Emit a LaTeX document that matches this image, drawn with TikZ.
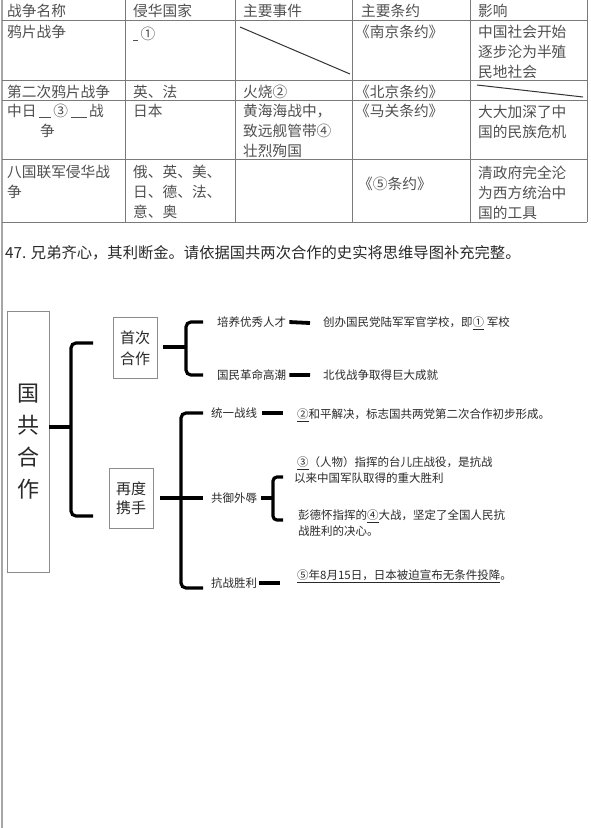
\documentclass[tikz,border=0pt]{standalone}
\usepackage{fontspec}
\setmainfont{Noto Sans CJK SC}
\definecolor{tgray}{HTML}{505050}
\definecolor{lgray}{HTML}{7A7A7A}
\definecolor{bgray}{HTML}{8C8C8C}
\definecolor{mtext}{HTML}{2A2A2A}
\begin{document}
\begin{tikzpicture}[x=1pt,y=-1pt,
 tline/.style={draw=lgray,line width=0.9pt},
 slash/.style={draw=black!80,line width=1pt},
 cell/.style={anchor=north west,inner sep=0pt,text=tgray,align=left,font=\fontsize{14.7}{20}\selectfont},
 qline/.style={anchor=base west,inner sep=0pt,text=mtext,font=\fontsize{15.3}{20}\selectfont},
 mbox/.style={draw=bgray,line width=0.8pt,inner sep=0pt,align=center,text=mtext},
 mt/.style={anchor=base west,inner sep=0pt,text=mtext,font=\fontsize{11.5}{16}\selectfont},
 mtm/.style={anchor=north west,inner sep=0pt,text=mtext,align=left,font=\fontsize{11.5}{16}\selectfont},
 brk/.style={draw=black,line width=3.2pt,rounded corners=5pt},
 dsh/.style={draw=black,line width=3.8pt},
]
\useasboundingbox (0,0) rectangle (590,828);
\fill[white] (0,0) rectangle (590,828);

% ---------- table grid ----------
\draw[draw=gray!70,line width=1.6pt] (2,0) -- (2,828);
\foreach \yy in {20,80,100,159,222} \draw[tline] (2,\yy) -- (587,\yy);
\foreach \xx in {125,235,352,470,587} \draw[tline] (\xx,0) -- (\xx,222);

% ---------- table text ----------
\node[cell] (h1) at (7,3.5) {战争名称};
\node[cell] (h2) at (133,3.5) {侵华国家};
\node[cell] (h3) at (243,3.5) {主要事件};
\node[cell] (h4) at (361,3.5) {主要条约};
\node[cell] (h5) at (478,3.5) {影响};

\node[cell] (r1a) at (7,24.5) {鸦片战争};
\node[cell] (r1b) at (133,27) {\rule[-1.5pt]{5pt}{0.7pt}\,①};
\coordinate (d1a) at (240,27);
\coordinate (d1b) at (350,74);
\draw[slash] (d1a) -- (d1b);
\node[cell] (r1d) at (355,24.5) {《南京条约》};
\node[cell] (r1e) at (478,24.5) {中国社会开始\\逐步沦为半殖\\民地社会};

\node[cell] (r2a) at (7,84.5) {第二次鸦片战争};
\node[cell] (r2b) at (133,84.5) {英、法};
\node[cell] (r2c) at (243,84.5) {火烧②};
\node[cell] (r2d) at (355,84.5) {《北京条约》};
\coordinate (d2a) at (477,85);
\coordinate (d2b) at (583,97);
\draw[slash] (d2a) -- (d2b);

\node[cell] (r3a) at (7,103.5) {中日\,\rule[-1.5pt]{12pt}{0.8pt}\,③\,\rule[-1.5pt]{16pt}{0.8pt}\,战\\\hspace*{33pt}争};
\node[cell] (r3b) at (133,103.5) {日本};
\node[cell] (r3c) at (243,103.5) {黄海海战中，\\致远舰管带④\\壮烈殉国};
\node[cell] (r3d) at (355,103.5) {《马关条约》};
\node[cell] (r3e) at (478,104.5) {大大加深了中\\国的民族危机};

\node[cell] (r4a) at (7,164.5) {八国联军侵华战\\争};
\node[cell] (r4b) at (133,164.5) {俄、英、美、\\日、德、法、\\意、奥};
\node[cell] (r4d) at (358,176.5) {《⑤条约》};
\node[cell] (r4e) at (478,165.5) {清政府完全沦\\为西方统治中\\国的工具};

% ---------- question line ----------
\node[qline] (q47) at (5,258.5) {47. 兄弟齐心，其利断金。请依据国共两次合作的史实将思维导图补充完整。};

% ---------- mind map ----------
\node[mbox,minimum width=42pt,minimum height=261pt,font=\fontsize{22}{32}\selectfont] (gc) at (28,441.5) {国\\共\\合\\作};
\node[mbox,minimum width=44pt,minimum height=61pt,font=\fontsize{15}{21}\selectfont] (fc) at (135,348) {首次\\合作};
\node[mbox,minimum width=44pt,minimum height=60pt,font=\fontsize{15}{19}\selectfont] (zc) at (131,498) {再度\\携手};

% main bracket
\coordinate (b1t) at (93,343);
\coordinate (b1v) at (71,427);
\coordinate (b1b) at (93,516);
\draw[brk] (b1t) -| (b1v) |- (b1b);
\draw[dsh] (gc.east |- b1v) -- (b1v);

% first cooperation
\node[mt] (p1) at (217,326.4) {培养优秀人才};
\node[mt] (p1r) at (323,326.4) {创办国民党陆军军官学校，即\underline{①} 军校};
\node[mt] (p2) at (217,379.4) {国民革命高潮};
\node[mt] (p2r) at (323,379.4) {北伐战争取得巨大成就};
\coordinate (b2t) at (203,322);
\coordinate (b2v) at (186,347);
\coordinate (b2b) at (203,375);
\draw[brk] (b2t) -| (b2v) |- (b2b);
\draw[dsh] ([xshift=6pt]fc.east |- b2v) -- (b2v);
\draw[dsh] ([xshift=3pt]p1.east) -- ([xshift=-13pt]p1r.west);
\draw[dsh] ([xshift=3pt]p2.east) -- ([xshift=-13pt]p2r.west);

% second cooperation
\node[mt] (s1) at (211,417.4) {统一战线};
\node[mt] (s1r) at (297,418.4) {\underline{②}和平解决，标志国共两党第二次合作初步形成。};
\node[mt] (s2) at (211,502.4) {共御外辱};
\node[mtm] (s2a) at (294,456.5) {\hspace*{3pt}\underline{③}（人物）指挥的台儿庄战役，是抗战\\以来中国军队取得的重大胜利};
\node[mtm] (s2b) at (298,509.5) {彭德怀指挥的\underline{④}大战，坚定了全国人民抗\\战胜利的决心。};
\node[mt] (s3) at (211,587.4) {抗战胜利};
\node[mt] (s3r) at (297,579.4) {\underline{⑤年8月15日，日本被迫宣布无条件投降}。};

\coordinate (b3t) at (203,413);
\coordinate (b3v) at (181,498);
\coordinate (b3b) at (203,588);
\draw[brk] (b3t) -| (b3v) |- (b3b);
\draw[dsh] ([xshift=7pt]zc.east) -- ([xshift=-8pt]s2.west |- zc.east);
\draw[dsh] ([xshift=5pt]s1.east |- b3t) -- ([xshift=-14pt]s1r.west |- b3t);
\draw[dsh] ([xshift=2pt]s3.east) -- ([xshift=-17pt]s3r.west |- s3.east);

\coordinate (b4t) at (283,477);
\coordinate (b4v) at (273,498);
\coordinate (b4b) at (283,520);
\draw[brk,rounded corners=4pt] (b4t) -| (b4v) |- (b4b);
\draw[dsh] ([xshift=4pt]s2.east |- b4v) -- (b4v);
\end{tikzpicture}
\end{document}
